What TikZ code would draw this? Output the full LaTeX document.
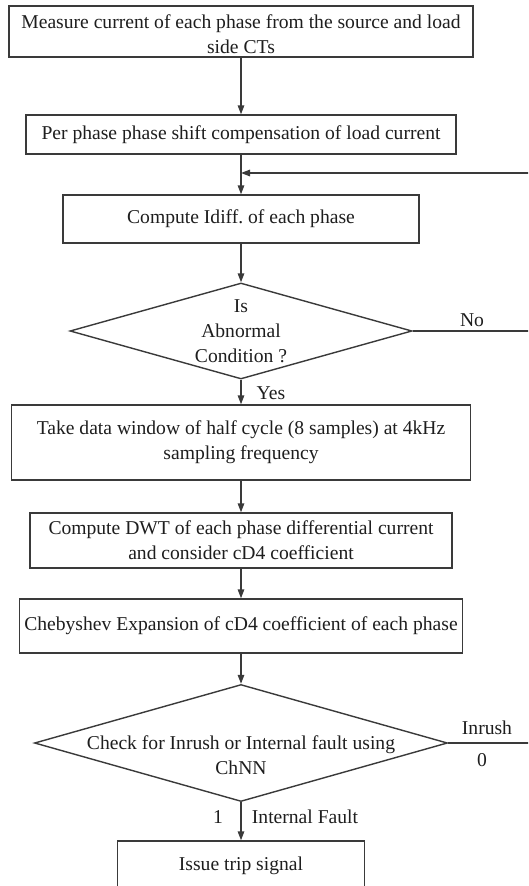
\documentclass[tikz,border=0pt]{standalone}
\usepackage{fontspec}
\setmainfont{Liberation Serif}
\usetikzlibrary{arrows.meta,shapes.geometric}
\definecolor{ln}{HTML}{3A3A3A}
\definecolor{tx}{HTML}{1E1E1E}
\tikzset{
  every node/.style={text=tx, font=\fontsize{19.6}{25}\selectfont},
  box/.style={draw=ln, line width=1.4pt, rectangle, align=center, inner sep=0pt},
  dec/.style={draw=ln, line width=1.4pt, diamond, inner sep=0pt},
  lbl/.style={inner sep=0pt},
  arr/.style={draw=ln, line width=1.4pt, -{Triangle[length=9pt,width=6.5pt]}},
  ln/.style={draw=ln, line width=1.4pt},
}
\frenchspacing
\begin{document}
\begin{tikzpicture}[x=1pt,y=-1pt]
\useasboundingbox (0,0) rectangle (528,886);
\clip (0,0) rectangle (528,886);
\fill[white] (0,0) rectangle (528,886);

\node[box, minimum width=464pt, minimum height=51pt] (b1) at (241,31.5)
  {\raisebox{-3pt}[\height][\depth]{\parbox[c]{460pt}{\centering Measure current of each phase from the source and load\\side CTs}}};
\node[box, minimum width=430pt, minimum height=39pt] (b2) at (241,134.5)
  {Per phase phase shift compensation of load current};
\node[box, minimum width=356pt, minimum height=48pt] (b3) at (241,219)
  {Compute Idiff. of each phase};
\node[dec, minimum width=342pt, minimum height=96pt] (d1) at (241,331) {};
\node[lbl, align=center] (t1) at (241,331) {Is\\Abnormal\\Condition ?};
\node[box, minimum width=459pt, minimum height=75pt] (b4) at (241,442.5)
  {Take data window of half cycle (8 samples) at 4kHz\\sampling frequency};
\node[box, minimum width=422pt, minimum height=55pt] (b5) at (241,540.5)
  {Compute DWT of each phase differential current\\and consider cD4 coefficient};
\node[box, minimum width=443pt, minimum height=54pt] (b6) at (241,626)
  {Chebyshev Expansion of cD4 coefficient of each phase};
\node[dec, minimum width=413pt, minimum height=117pt] (d2) at (241,743) {};
\node[lbl, align=center] (t2) at (241,755.5) {Check for Inrush or Internal fault using\\ChNN};
\node[box, minimum width=247pt, minimum height=50pt] (b7) at (241,866)
  {Issue trip signal};

\coordinate (j) at (241,173);
\coordinate (r1) at (560,331);
\coordinate (r2) at (560,743);

\draw[arr] (b1) -- (b2);
\draw[arr] (b2) -- (b3);
\draw[arr] (b3) -- (d1.north);
\draw[arr] (d1.south) -- (b4);
\draw[arr] (b4) -- (b5);
\draw[arr] (b5) -- (b6);
\draw[arr] (b6) -- (d2.north);
\draw[arr] (d2.south) -- (b7);
\draw[arr] (d1.east) -- (r1) |- (j);
\draw[ln] (d2.east) -- (r2) -- (r1);

\node[lbl] (no) at (472,320) {No};
\node[lbl] (yes) at (271,393) {Yes};
\node[lbl] (inr) at (487,728) {Inrush};
\node[lbl] (zero) at (482,760) {0};
\node[lbl] (one) at (218,817) {1};
\node[lbl] (ifault) at (305,817) {Internal Fault};
\end{tikzpicture}
\end{document}
